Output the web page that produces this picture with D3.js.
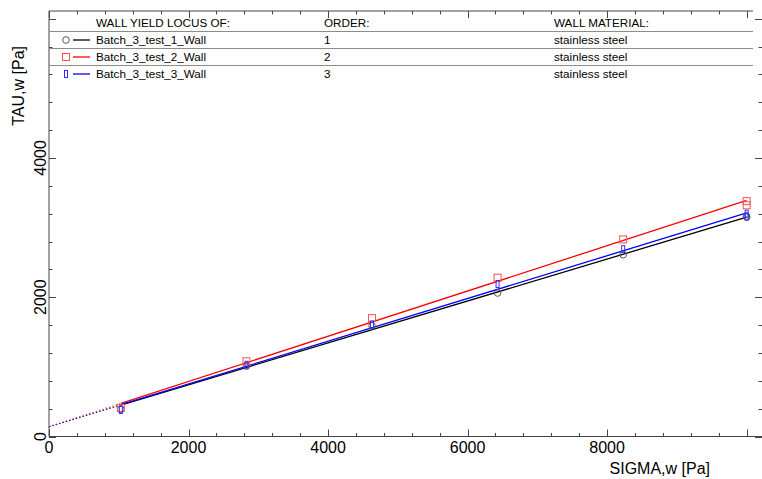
<!DOCTYPE html>
<html>
<head>
<meta charset="utf-8">
<script src="https://cdn.jsdelivr.net/npm/d3@7"></script>
<style>
  html, body { margin: 0; padding: 0; background: #fff; }
  svg { display: block; font-family: "Liberation Sans", Arial, sans-serif; }
</style>
</head>
<body>
<svg id="chart" width="762" height="479"></svg>
<script>
// Normal stress levels of the wall shear test [Pa]
const sigma = [1030, 2830, 4630, 6430, 8230, 10000, 10000];

// Measured wall shear stresses [Pa] per test
const tauTest1 = [390, 1010, 1590, 2060, 2610, 3160, 3150];
const tauTest2 = [410, 1080, 1700, 2280, 2830, 3380, 3320];
const tauTest3 = [380, 1030, 1610, 2190, 2690, 3200, 3160];

// Linear wall yield loci: tau = intercept + slope * sigma
const locusIntercept = [140, 140, 140];
const locusSlope = [0.3010, 0.3250, 0.3070];

const seriesNames = ["Batch_3_test_1_Wall", "Batch_3_test_2_Wall", "Batch_3_test_3_Wall"];
const seriesOrder = ["1", "2", "3"];
const seriesMaterial = ["stainless steel", "stainless steel", "stainless steel"];
const seriesColors = ["#000000", "#ff0000", "#0000ff"];
const markerColors = ["#555555", "#ff5050", "#3030ff"];
const markerShapes = ["circle", "square", "bar"];

const xTickLabels = [0, 2000, 4000, 6000, 8000];
const yTickLabels = [0, 2000, 4000];

const legendHeaders = ["WALL YIELD LOCUS OF:", "ORDER:", "WALL MATERIAL:"];

const svg = d3.select("#chart");
const axisColor = "#454545";

const plotLeft = 49, plotBottom = 436.5, plotTop = 11, plotRight = 762, frameTopEnd = 753;
const x = d3.scaleLinear().domain([0, 10220]).range([plotLeft, plotRight]);
const y = d3.scaleLinear().domain([0, 6110]).range([plotBottom, plotTop]);

const series = [tauTest1, tauTest2, tauTest3].map((tau, i) => ({
  name: seriesNames[i],
  order: seriesOrder[i],
  material: seriesMaterial[i],
  color: seriesColors[i],
  marker: markerColors[i],
  shape: markerShapes[i],
  points: sigma.map((s, k) => ({ s, t: tau[k] })),
  a: locusIntercept[i],
  b: locusSlope[i]
}));

// Axes frame (all ticks point into the plot)
const minorsX = d3.range(0, 10201, 400);
const minorsY = d3.range(0, 6101, 400);

const g = svg.append("g").attr("stroke", axisColor).attr("stroke-width", 1).attr("fill", "none");
g.append("line").attr("x1", plotLeft).attr("x2", plotRight).attr("y1", plotBottom).attr("y2", plotBottom);
g.append("line").attr("x1", plotLeft).attr("x2", plotLeft).attr("y1", plotTop).attr("y2", plotBottom);
g.append("line").attr("x1", plotLeft).attr("x2", frameTopEnd).attr("y1", plotTop).attr("y2", plotTop);

minorsX.forEach(v => {
  const len = v % 2000 === 0 ? 7 : 3.5;
  const px = Math.round(x(v)) + 0.5;
  g.append("line").attr("x1", px).attr("x2", px).attr("y1", plotBottom).attr("y2", plotBottom - len);
  if (x(v) < frameTopEnd) g.append("line").attr("x1", px).attr("x2", px).attr("y1", plotTop).attr("y2", plotTop + len);
});
minorsY.forEach(v => {
  const len = v % 2000 === 0 ? 7 : 3.5;
  const py = Math.round(y(v)) + 0.5;
  g.append("line").attr("x1", plotLeft).attr("x2", plotLeft + len).attr("y1", py).attr("y2", py);
  g.append("line").attr("x1", plotRight).attr("x2", plotRight - len).attr("y1", py).attr("y2", py);
});

// Tick labels
svg.append("g").selectAll("text").data(xTickLabels).join("text")
  .attr("x", d => x(d)).attr("y", 453)
  .attr("text-anchor", "middle").attr("font-size", 16).attr("fill", "#000")
  .text(d => d);
svg.append("g").selectAll("text").data(yTickLabels).join("text")
  .attr("transform", d => `translate(45.5,${Math.min(y(d), 437.5)}) rotate(-90)`)
  .attr("text-anchor", "middle").attr("font-size", 16).attr("fill", "#000")
  .text(d => d);

// Axis titles
svg.append("text").attr("x", 710).attr("y", 474).attr("text-anchor", "end")
  .attr("font-size", 16).attr("fill", "#000").text("SIGMA,w [Pa]");
svg.append("text").attr("transform", "translate(24,46) rotate(-90)").attr("text-anchor", "end")
  .attr("font-size", 16).attr("fill", "#000").text("TAU,w [Pa]");

// Yield loci: dotted from the origin to the lowest stress, solid over the measured range
const plot = svg.append("g");
series.forEach(sr => {
  const sMin = d3.min(sr.points, p => p.s);
  plot.append("line")
    .attr("x1", x(0)).attr("y1", y(sr.a))
    .attr("x2", x(sMin)).attr("y2", y(sr.a + sr.b * sMin))
    .attr("stroke", sr.color).attr("stroke-width", 1.2).attr("stroke-dasharray", "1.5,2")
    .attr("opacity", 0.6);
});
series.forEach(sr => {
  const sMin = d3.min(sr.points, p => p.s), sMax = d3.max(sr.points, p => p.s);
  plot.append("line")
    .attr("x1", x(sMin)).attr("y1", y(sr.a + sr.b * sMin))
    .attr("x2", x(sMax)).attr("y2", y(sr.a + sr.b * sMax))
    .attr("stroke", sr.color).attr("stroke-width", 1.3);
});

function drawMarker(sel, shape, color, cx, cy) {
  if (shape === "circle") {
    sel.append("circle").attr("cx", cx).attr("cy", cy).attr("r", 3.3)
      .attr("fill", "none").attr("stroke", color).attr("stroke-width", 1);
  } else if (shape === "square") {
    sel.append("rect").attr("x", cx - 3.5).attr("y", cy - 3.5).attr("width", 7).attr("height", 7)
      .attr("fill", "none").attr("stroke", color).attr("stroke-width", 1);
  } else {
    sel.append("rect").attr("x", cx - 1.5).attr("y", cy - 3.5).attr("width", 3).attr("height", 7)
      .attr("fill", "none").attr("stroke", color).attr("stroke-width", 1);
  }
}

series.forEach(sr => {
  const mg = plot.append("g");
  sr.points.forEach(p => drawMarker(mg, sr.shape, sr.marker, x(p.s), y(p.t)));
});

// Legend table
const lg = svg.append("g").attr("font-size", 11.7).attr("fill", "#000");
const colX = [96, 324, 554];
legendHeaders.forEach((h, i) => lg.append("text").attr("x", colX[i]).attr("y", 26.5).text(h));
[31.5, 48.5, 65.5].forEach(ly => {
  lg.append("line").attr("x1", plotLeft).attr("x2", frameTopEnd).attr("y1", ly).attr("y2", ly)
    .attr("stroke", "#8c8c8c").attr("stroke-width", 1);
});
series.forEach((sr, i) => {
  const by = 44 + i * 17;
  const cy = by - 4;
  drawMarker(lg, sr.shape, sr.marker, 66, cy);
  lg.append("line").attr("x1", 73).attr("x2", 90).attr("y1", cy).attr("y2", cy)
    .attr("stroke", sr.color).attr("stroke-width", 1.3);
  lg.append("text").attr("x", colX[0]).attr("y", by).text(sr.name);
  lg.append("text").attr("x", colX[1]).attr("y", by).text(sr.order);
  lg.append("text").attr("x", colX[2]).attr("y", by).text(sr.material);
});
</script>
</body>
</html>
